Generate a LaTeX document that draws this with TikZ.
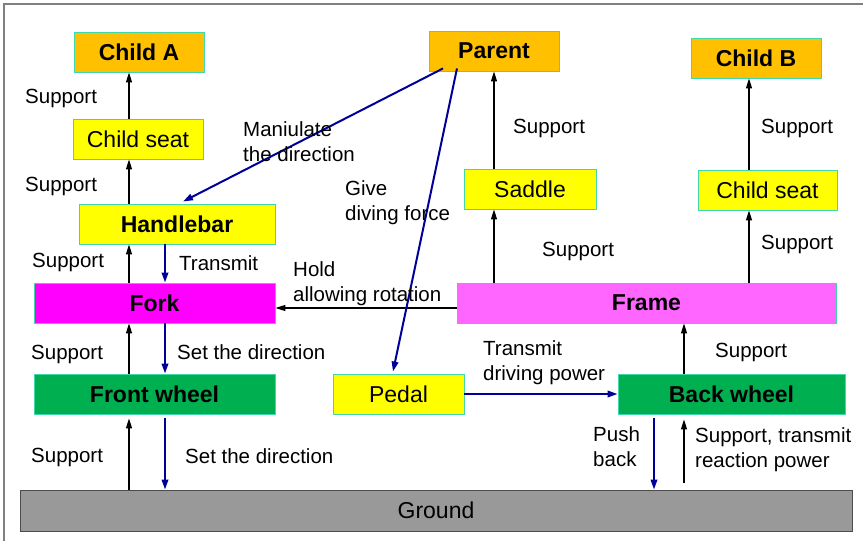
\documentclass[tikz,border=0pt]{standalone}
\usepackage{fontspec}
\setmainfont{Liberation Sans}
\usetikzlibrary{arrows.meta}
\definecolor{orng}{HTML}{FFC000}
\definecolor{yell}{HTML}{FFFF00}
\definecolor{mag}{HTML}{FF00FF}
\definecolor{pink}{HTML}{FF66FF}
\definecolor{grn}{HTML}{00B050}
\definecolor{gry}{HTML}{999999}
\definecolor{edge}{HTML}{40D8A8}
\definecolor{navy}{HTML}{000099}
\tikzset{
  box/.style={draw=edge, line width=0.9pt, minimum height=40pt, inner sep=0pt, font=\fontsize{23}{27}\selectfont},
  bbox/.style={box, font=\fontsize{23}{27}\selectfont\bfseries},
  lbl/.style={anchor=base west, inner sep=0pt, font=\fontsize{20.5}{25}\selectfont, align=left},
  blk/.style={line width=1.4pt, -{Triangle[length=10pt,width=6pt]}},
  blu/.style={draw=navy, line width=2pt, -{Triangle[length=10pt,width=6.5pt]}},
}
\begin{document}
\begin{tikzpicture}[x=1pt,y=-1pt]
\useasboundingbox (0,0) rectangle (863,541);
\draw[gray, line width=1.2pt] (4,541) -- (4,4) -- (863,4);
% nodes
\node[bbox, fill=orng, minimum width=130pt] (childA) at (139,52) {Child A};
\node[box, fill=yell, minimum width=130pt] (seatA) at (138,139) {Child seat};
\node[bbox, fill=yell, minimum width=196pt] (handle) at (177,224) {Handlebar};
\node[bbox, fill=mag, minimum width=241pt] (fork) at (154.5,303) {Fork};
\node[bbox, fill=grn, minimum width=241pt] (front) at (154.5,394) {Front wheel};
\node[box, fill=gry, draw=black!70, minimum width=832pt, minimum height=41pt] (ground) at (436,510.5) {Ground};
\node[bbox, fill=orng, minimum width=130pt] (parent) at (494,51) {Parent};
\node[box, fill=yell, minimum width=132pt] (saddle) at (530,189) {Saddle};
\node[bbox, fill=orng, minimum width=130pt] (childB) at (756,58) {Child B};
\node[box, fill=yell, minimum width=139pt] (seatB) at (767.5,190) {Child seat};
\node[bbox, fill=pink, minimum width=379pt] (frame) at (646.5,303) {Frame};
\node[box, fill=yell, minimum width=131pt] (pedal) at (398.5,394) {Pedal};
\node[bbox, fill=grn, minimum width=227pt] (back) at (731.5,394) {Back wheel};
% columns
\coordinate (cA) at (129,0);
\coordinate (cB) at (165,0);
\coordinate (cM) at (494,0);
\coordinate (cR) at (749,0);
\coordinate (cF) at (684,0);
\coordinate (cP) at (654,0);
% left column
\draw[blk] (seatA.north -| cA) -- (childA.south -| cA);
\draw[blk] (handle.north -| cA) -- (seatA.south -| cA);
\draw[blk] (fork.north -| cA) -- (handle.south -| cA);
\draw[blk] (front.north -| cA) -- (fork.south -| cA);
\draw[blk, shorten >=4pt] (ground.north -| cA) -- (front.south -| cA);
\draw[blu] (handle.south -| cB) -- (fork.north -| cB);
\draw[blu] (fork.south -| cB) -- (front.north -| cB);
\draw[blu, shorten <=4pt] (front.south -| cB) -- (ground.north -| cB);
% middle / right
\draw[blk] ([yshift=-5pt]frame.west) -- ([yshift=-5pt]fork.east);
\draw[blu] ([shift={(-51,-3)}]parent.south) -- ([shift={(6,-2)}]handle.north);
\draw[blu] ([shift={(-37,-3)}]parent.south) -- ([shift={(-5.5,-2)}]pedal.north);
\draw[blk] (saddle.north -| cM) -- (parent.south -| cM);
\draw[blk] (frame.north -| cM) -- (saddle.south -| cM);
\draw[blk] (seatB.north -| cR) -- (childB.south -| cR);
\draw[blk] (frame.north -| cR) -- (seatB.south -| cR);
\draw[blk] (back.north -| cF) -- (frame.south -| cF);
\draw[blu] (pedal.east) -- (back.west);
\draw[blu, shorten <=4pt] (back.south -| cP) -- (ground.north -| cP);
\draw[blk, shorten <=7pt, shorten >=5pt] (ground.north -| cF) -- (back.south -| cF);
% labels
\node[lbl] (l1) at (25,103) {Support};
\node[lbl] (l2) at (25,191) {Support};
\node[lbl] (l3) at (32,267) {Support};
\node[lbl] (l4) at (179,270) {Transmit};
\node[lbl] (l5) at (31,359) {Support};
\node[lbl] (l6) at (177,359) {Set the direction};
\node[lbl] (l7) at (31,462) {Support};
\node[lbl] (l8) at (185,463) {Set the direction};
\node[lbl] (l9) at (293,301) {Hold\\allowing rotation};
\node[lbl] (l10) at (243,161) {Maniulate\\the direction};
\node[lbl] (l11) at (345,220) {Give\\diving force};
\node[lbl] (l12) at (513,133) {Support};
\node[lbl] (l13) at (542,256) {Support};
\node[lbl] (l14) at (761,133) {Support};
\node[lbl] (l15) at (761,249) {Support};
\node[lbl] (l16) at (483,380) {Transmit\\driving power};
\node[lbl] (l17) at (715,357) {Support};
\node[lbl] (l18) at (593,466) {Push\\back};
\node[lbl] (l19) at (695,467) {Support, transmit\\reaction power};
\end{tikzpicture}
\end{document}
